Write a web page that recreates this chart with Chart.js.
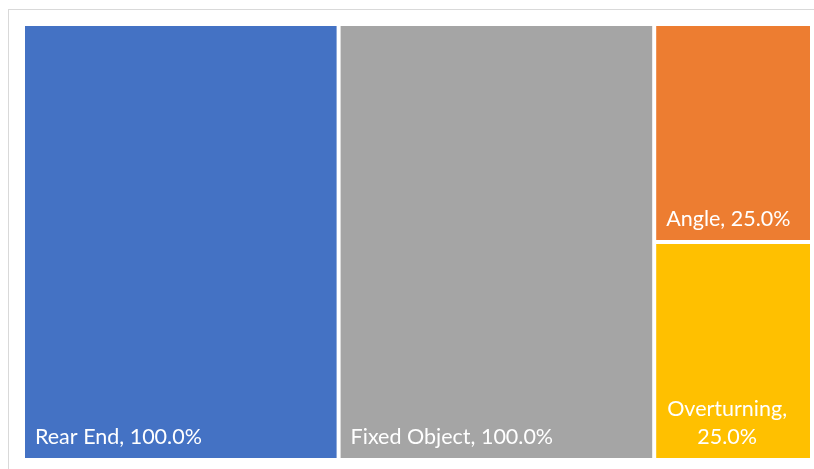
<!DOCTYPE html>
<html>
<head>
<meta charset="utf-8">
<script src="https://cdn.jsdelivr.net/npm/chart.js@4"></script>
<style>
  body { margin: 0; background: #fff; }
  #wrap { position: relative; width: 814px; height: 469px; overflow: hidden; }
  #frame { position: absolute; left: 8px; top: 9px; width: 900px; height: 500px; border: 1px solid #d9d9d9; }
  #treeChart { position: absolute; left: 0; top: 0; }
</style>
</head>
<body>
<div id="wrap">
  <div id="frame"></div>
  <canvas id="treeChart" width="814" height="469"></canvas>
</div>
<script>
/* ------------------------------
   DATA
--------------------------------*/

const categories = ["Rear End", "Fixed Object", "Angle", "Overturning"];
const shares = [100.0, 100.0, 25.0, 25.0];
const tileColors = ["#4472C4", "#A5A5A5", "#ED7D31", "#FFC000"];

/* ------------------------------
   SQUARIFIED LAYOUT (aspect-aware)
--------------------------------*/

function worstRatio(row, side, scale) {
    let sum = row.reduce((a, b) => a + b.v, 0) * scale;
    let max = Math.max(...row.map(r => r.v * scale));
    let min = Math.min(...row.map(r => r.v * scale));
    let s2 = side * side;
    return Math.max(s2 * max / (sum * sum), (sum * sum) / (s2 * min));
}

// returns rects in w x h units, later mapped to 0..1 on the scales
function squarify(items, w, h) {
    let total = items.reduce((a, b) => a + b.v, 0);
    let scale = (w * h) / total;
    let rects = [];
    let x = 0, y = 0, rw = w, rh = h;
    let rest = items.slice();

    while (rest.length) {
        let side = Math.min(rw, rh);
        let row = [rest[0]];
        let i = 1;
        while (i < rest.length &&
               worstRatio(row.concat([rest[i]]), side, scale) <= worstRatio(row, side, scale)) {
            row.push(rest[i]);
            i++;
        }
        rest = rest.slice(i);
        let rowArea = row.reduce((a, b) => a + b.v, 0) * scale;

        if (rw >= rh) {
            // vertical column on the left
            let colW = rowArea / rh;
            let yy = y;
            row.forEach(r => {
                let hh = r.v * scale / colW;
                rects.push({ item: r, x0: x, y0: yy, x1: x + colW, y1: yy + hh });
                yy += hh;
            });
            x += colW; rw -= colW;
        } else {
            // horizontal row on the top
            let rowH = rowArea / rw;
            let xx = x;
            row.forEach(r => {
                let ww = r.v * scale / rowH;
                rects.push({ item: r, x0: xx, y0: y, x1: xx + ww, y1: y + rowH });
                xx += ww;
            });
            y += rowH; rh -= rowH;
        }
    }
    return rects;
}

/* ------------------------------
   TREEMAP PLUGIN
--------------------------------*/

function wrapWords(ctx, text, maxW) {
    let words = text.split(" ");
    let lines = [];
    let cur = "";
    words.forEach(w => {
        let test = cur ? cur + " " + w : w;
        if (cur && ctx.measureText(test).width > maxW) {
            lines.push(cur);
            cur = w;
        } else {
            cur = test;
        }
    });
    if (cur) lines.push(cur);
    return lines;
}

const treemapPlugin = {
    id: "treemapTiles",
    afterDatasetsDraw(chart) {
        const ctx = chart.ctx;
        const xs = chart.scales.x, ys = chart.scales.y;
        const area = chart.chartArea;
        const W = area.right - area.left, H = area.bottom - area.top;

        let items = categories.map((c, i) => ({ label: c, v: shares[i], color: tileColors[i] }));
        items.sort((a, b) => b.v - a.v);
        let rects = squarify(items, W, H);
        const gap = 2;

        ctx.save();
        rects.forEach(r => {
            let px0 = xs.getPixelForValue(r.x0 / W) + gap;
            let px1 = xs.getPixelForValue(r.x1 / W) - gap;
            let py0 = ys.getPixelForValue(1 - r.y0 / H) + gap;
            let py1 = ys.getPixelForValue(1 - r.y1 / H) - gap;

            ctx.fillStyle = r.item.color;
            ctx.fillRect(px0, py0, px1 - px0, py1 - py0);

            ctx.font = "21.5px Lato";
            ctx.fillStyle = "#ffffff";
            ctx.textBaseline = "alphabetic";
            let text = r.item.label + ", " + r.item.v.toFixed(1) + "%";
            let lines = wrapWords(ctx, text, px1 - px0 - 20);
            let lineH = 28;
            let blockW = Math.max(...lines.map(l => ctx.measureText(l).width));
            let baseY = py1 - 14 - (lines.length - 1) * lineH;
            lines.forEach((l, k) => {
                if (lines.length > 1) {
                    ctx.textAlign = "center";
                    ctx.fillText(l, px0 + 11 + blockW / 2, baseY + k * lineH);
                } else {
                    ctx.textAlign = "left";
                    ctx.fillText(l, px0 + 10, baseY);
                }
            });
        });
        ctx.restore();
    }
};

/* ------------------------------
   CHART
--------------------------------*/

let treeCtx = document.getElementById("treeChart");

let treeChart = new Chart(treeCtx, {
    type: "scatter",
    data: {
        datasets: [{ data: [] }]
    },
    options: {
        responsive: false,
        animation: false,
        layout: { padding: { left: 23, top: 24, right: 2, bottom: 9 } },
        plugins: { legend: { display: false }, tooltip: { enabled: false } },
        scales: {
            x: { type: "linear", min: 0, max: 1, display: false },
            y: { type: "linear", min: 0, max: 1, display: false }
        }
    },
    plugins: [treemapPlugin]
});
</script>
</body>
</html>
